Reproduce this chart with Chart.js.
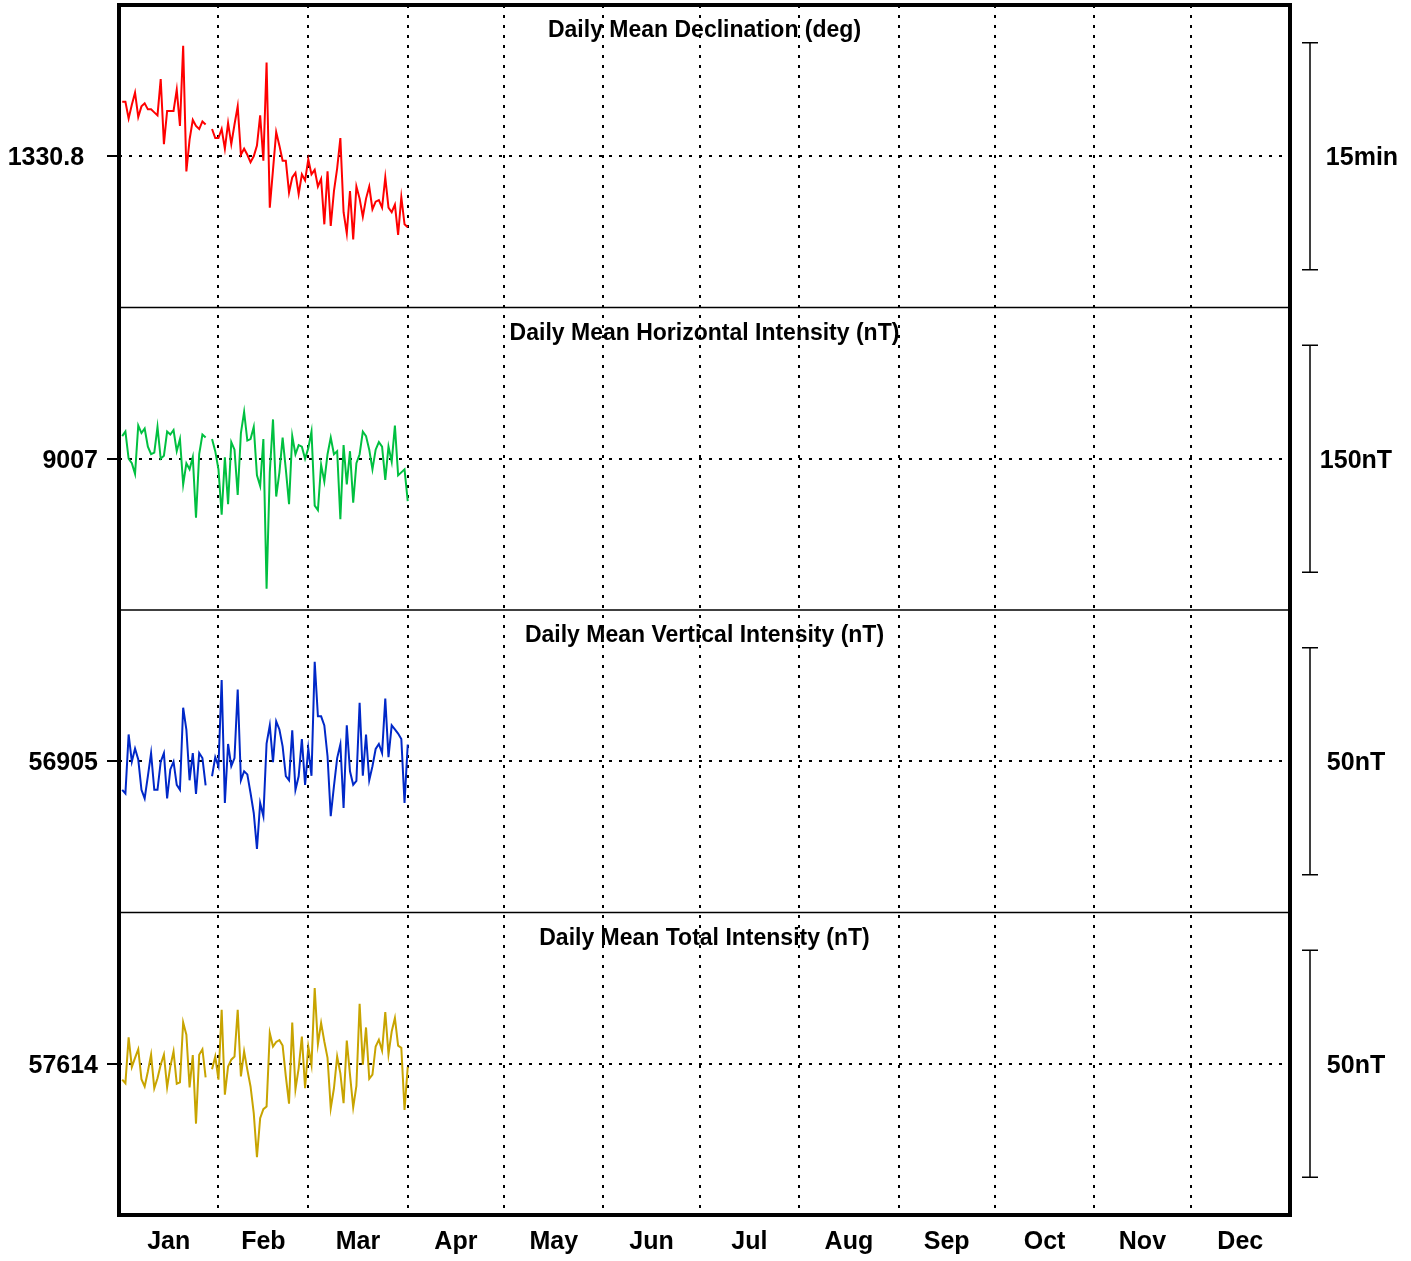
<!DOCTYPE html>
<html>
<head>
<meta charset="utf-8">
<script src="https://cdn.jsdelivr.net/npm/chart.js@4.4.1/dist/chart.umd.min.js"></script>
<style>
    html, body { margin: 0; padding: 0; background: #fff; }
    #wrap { width: 1411px; height: 1261px; }
</style>
</head>
<body>
<div id="wrap"><canvas id="magChart" width="1411" height="1261"></canvas></div>
<script>
// day of year for each daily mean
var days = [1, 2, 3, 4, 5, 6, 7, 8, 9, 10, 11, 12, 13, 14, 15, 16, 17, 18, 19, 20,
    21, 22, 23, 24, 25, 26, 27, 28, 29, 30, 31, 32, 33, 34, 35, 36, 37, 38, 39, 40,
    41, 42, 43, 44, 45, 46, 47, 48, 49, 50, 51, 52, 53, 54, 55, 56, 57, 58, 59, 60,
    61, 62, 63, 64, 65, 66, 67, 68, 69, 70, 71, 72, 73, 74, 75, 76, 77, 78, 79, 80,
    81, 82, 83, 84, 85, 86, 87, 88, 89, 90];

// declination in minutes of arc
var declination = [
    1334.4, 1334.4, 1333.3, 1334.2, 1335.0, 1333.4, 1334.1, 1334.3, 1333.9, 1333.9,
    1333.7, 1333.5, 1335.9, 1331.6, 1333.8, 1333.8, 1333.8, 1335.2, 1332.8, 1338.1,
    1329.8, 1331.9, 1333.2, 1332.8, 1332.6, 1333.1, 1332.9, null, 1332.6, 1332.0,
    1332.0, 1332.6, 1331.3, 1333.0, 1331.6, 1332.9, 1334.1, 1330.9, 1331.3, 1330.9,
    1330.4, 1330.8, 1331.5, 1333.5, 1330.5, 1337.0, 1327.4, 1329.9, 1332.4, 1331.5,
    1330.5, 1330.5, 1328.4, 1329.4, 1329.7, 1328.3, 1329.6, 1329.2, 1330.6, 1329.6,
    1329.9, 1328.8, 1329.3, 1326.3, 1329.8, 1326.2, 1328.5, 1330.0, 1332.0, 1327.1,
    1325.7, 1328.5, 1325.3, 1328.8, 1328.0, 1326.8, 1328.0, 1328.8, 1327.3, 1327.8,
    1327.9, 1327.4, 1329.4, 1327.4, 1327.1, 1327.6, 1325.6, 1328.1, 1326.3, 1326.1];

var horizontal = [
    9022, 9025, 9007, 9004, 8997, 9029, 9024, 9027, 9015, 9010,
    9011, 9028, 9007, 9009, 9025, 9023, 9026, 9012, 9020, 8990,
    9004, 9000, 9008, 8968, 9010, 9023, 9021, null, 9020, 9012,
    9000, 8970, 9008, 8977, 9018, 9013, 8983, 9024, 9038, 9019,
    9020, 9028, 8996, 8989, 9020, 8921, 8998, 9033, 8982, 8998,
    9021, 9000, 8977, 9022, 9010, 9016, 9015, 9007, 9014, 9025,
    8976, 8973, 9003, 8992, 9010, 9021, 9010, 9012, 8967, 9016,
    8990, 9012, 8978, 9004, 9010, 9025, 9022, 9013, 9000, 9013,
    9018, 9015, 8993, 9015, 9005, 9029, 8996, 8998, 9000, 8979];

var vertical = [
    56898.7, 56897.9, 56910.9, 56904.9, 56907.8, 56905.4, 56898.7, 56896.8, 56901.7, 56906.8,
    56898.7, 56898.7, 56904.9, 56906.8, 56896.8, 56903.2, 56904.9, 56899.8, 56898.7, 56916.8,
    56912.0, 56900.8, 56906.8, 56897.8, 56906.8, 56905.7, 56899.7, null, 56901.7, 56905.9,
    56903.9, 56922.9, 56895.8, 56908.8, 56903.9, 56905.7, 56920.8, 56900.8, 56902.8, 56902.1,
    56898.0, 56893.6, 56885.7, 56895.8, 56892.9, 56908.9, 56912.9, 56904.8, 56913.8, 56912.0,
    56908.3, 56901.7, 56900.8, 56911.8, 56898.7, 56901.7, 56909.9, 56899.8, 56907.8, 56901.8,
    56926.9, 56914.9, 56914.9, 56912.9, 56906.1, 56892.9, 56899.5, 56905.7, 56908.7, 56894.7,
    56912.9, 56902.8, 56899.8, 56900.7, 56917.9, 56901.8, 56910.9, 56900.8, 56903.9, 56907.7,
    56908.8, 56906.8, 56918.8, 56905.9, 56912.9, 56912.0, 56911.1, 56909.9, 56895.8, 56908.7];

var total = [
    57610.5, 57609.7, 57619.8, 57613.3, 57615.3, 57617.2, 57610.6, 57609.0, 57612.3, 57616.0,
    57608.6, 57610.8, 57613.8, 57616.0, 57608.8, 57613.4, 57616.7, 57609.6, 57609.9, 57623.1,
    57620.4, 57608.8, 57615.9, 57600.8, 57616.0, 57617.2, 57611.0, null, 57612.8, 57615.6,
    57610.5, 57625.9, 57607.2, 57613.4, 57614.9, 57615.6, 57625.9, 57611.2, 57616.7, 57612.7,
    57609.0, 57603.1, 57593.4, 57602.0, 57604.0, 57604.6, 57620.8, 57617.8, 57618.8, 57619.2,
    57618.0, 57611.2, 57605.2, 57623.1, 57608.4, 57613.0, 57620.0, 57608.6, 57617.8, 57613.8,
    57630.7, 57618.3, 57623.0, 57618.9, 57615.3, 57604.2, 57608.6, 57615.6, 57611.9, 57605.3,
    57619.1, 57611.6, 57604.4, 57609.1, 57627.2, 57613.8, 57622.0, 57610.7, 57611.6, 57617.8,
    57619.3, 57616.9, 57625.4, 57616.1, 57621.1, 57624.1, 57618.0, 57617.5, 57603.8, 57613.3];

var panelTitles = ['Daily Mean Declination (deg)', 'Daily Mean Horizontal Intensity (nT)',
    'Daily Mean Vertical Intensity (nT)', 'Daily Mean Total Intensity (nT)'];
var centers = [1330.8, 9007, 56905, 57614];
var centerLabels = ['1330.8', '9007', '56905', '57614'];
var panelSpans = [20, 200, 200 / 3, 200 / 3];
var scaleBars = [15, 150, 50, 50];
var scaleLabels = ['15min', '150nT', '50nT', '50nT'];

var monthNames = ['Jan', 'Feb', 'Mar', 'Apr', 'May', 'Jun', 'Jul', 'Aug', 'Sep', 'Oct', 'Nov', 'Dec'];
var monthStarts = [0, 31, 59, 90, 120, 151, 181, 212, 243, 273, 304, 334, 365];
var monthMids = [15.5, 45, 74.5, 105, 135.5, 166, 196.5, 227.5, 258, 288.5, 319, 349.5];

var series = [declination, horizontal, vertical, total];
var colors = ['#ff0000', '#00c040', '#0028c8', '#c8a400'];
var FONT = '"Liberation Sans", Arial, sans-serif';

function toPoints(values) {
    return values.map(function(v, i) {
        return { x: days[i], y: v };
    });
}

var scales = {
    x: {
        type: 'linear',
        position: 'bottom',
        min: 0,
        max: 365,
        afterBuildTicks: function(scale) {
            scale.ticks = monthStarts.concat(monthMids).map(function(v) { return { value: v }; });
        },
        afterFit: function(scale) { scale.height = 46; },
        ticks: {
            autoSkip: false,
            maxRotation: 0,
            padding: 12,
            color: '#000',
            font: { family: FONT, size: 25, weight: 'bold' },
            callback: function(value) {
                var idx = monthMids.indexOf(value);
                return idx >= 0 ? monthNames[idx] : '';
            }
        },
        grid: {
            drawTicks: false,
            lineWidth: 2,
            color: function(ctx) {
                if (ctx.tick && monthStarts.indexOf(ctx.tick.value) >= 0) return '#000';
                return 'rgba(0,0,0,0)';
            }
        },
        border: { display: false, dash: [3, 7] }
    }
};

var datasets = [];
series.forEach(function(values, i) {
    var id = 'y' + i;
    scales[id] = {
        type: 'linear',
        position: 'left',
        stack: 'panels',
        stackWeight: 1,
        weight: 4 - i,
        min: centers[i] - panelSpans[i] / 2,
        max: centers[i] + panelSpans[i] / 2,
        afterBuildTicks: function(scale) { scale.ticks = [{ value: centers[i] }]; },
        afterFit: function(scale) {
            // label sits mid-panel, no extra room needed above or below
            scale.width = 119;
            scale.paddingTop = 0;
            scale.paddingBottom = 0;
        },
        ticks: {
            padding: 9,
            labelOffset: 2,
            color: '#000',
            font: { family: FONT, size: 25, weight: 'bold' },
            callback: function() { return i === 0 ? centerLabels[i] + '  ' : centerLabels[i]; }
        },
        grid: { color: '#000', lineWidth: 2, tickLength: 12, tickWidth: 2, tickColor: '#000' },
        border: { display: false, dash: [3, 7] }
    };
    datasets.push({
        label: panelTitles[i],
        data: toPoints(values),
        yAxisID: id,
        borderColor: colors[i],
        borderWidth: 2,
        pointRadius: 0,
        fill: false,
        tension: 0
    });
});

// titles, scale bars, panel separators and frame
var panelDecor = {
    id: 'panelDecor',
    afterDraw: function(chart) {
        var ctx = chart.ctx;
        var area = chart.chartArea;
        ctx.save();
        for (var i = 0; i < 4; i++) {
            var sc = chart.scales['y' + i];
            ctx.fillStyle = '#000';
            ctx.textAlign = 'center';
            ctx.textBaseline = 'middle';
            ctx.font = 'bold 23px ' + FONT;
            ctx.fillText(panelTitles[i], (area.left + area.right) / 2, sc.top + 26);

            var yTop = sc.getPixelForValue(centers[i] + scaleBars[i] / 2);
            var yBot = sc.getPixelForValue(centers[i] - scaleBars[i] / 2);
            var yMid = sc.getPixelForValue(centers[i]);
            ctx.strokeStyle = '#000';
            ctx.lineWidth = 1.5;
            ctx.beginPath();
            ctx.moveTo(1310, yTop); ctx.lineTo(1310, yBot);
            ctx.moveTo(1302, yTop); ctx.lineTo(1318, yTop);
            ctx.moveTo(1302, yBot); ctx.lineTo(1318, yBot);
            ctx.stroke();
            ctx.font = 'bold 25px ' + FONT;
            ctx.fillText(scaleLabels[i], i === 0 ? 1362 : 1356, yMid + 2);

            if (i < 3) {
                ctx.lineWidth = 1.5;
                ctx.beginPath();
                ctx.moveTo(area.left, sc.bottom);
                ctx.lineTo(area.right, sc.bottom);
                ctx.stroke();
            }
        }
        ctx.lineWidth = 4;
        ctx.strokeRect(area.left, area.top, area.right - area.left, area.bottom - area.top);
        ctx.restore();
    }
};

var chart = new Chart(document.getElementById('magChart').getContext('2d'), {
    type: 'line',
    data: { datasets: datasets },
    options: {
        responsive: false,
        animation: false,
        devicePixelRatio: 1,
        layout: { padding: { top: 5, right: 121, left: 0, bottom: 0 } },
        plugins: { legend: { display: false }, tooltip: { enabled: false } },
        scales: scales
    },
    plugins: [panelDecor]
});
</script>
</body>
</html>
